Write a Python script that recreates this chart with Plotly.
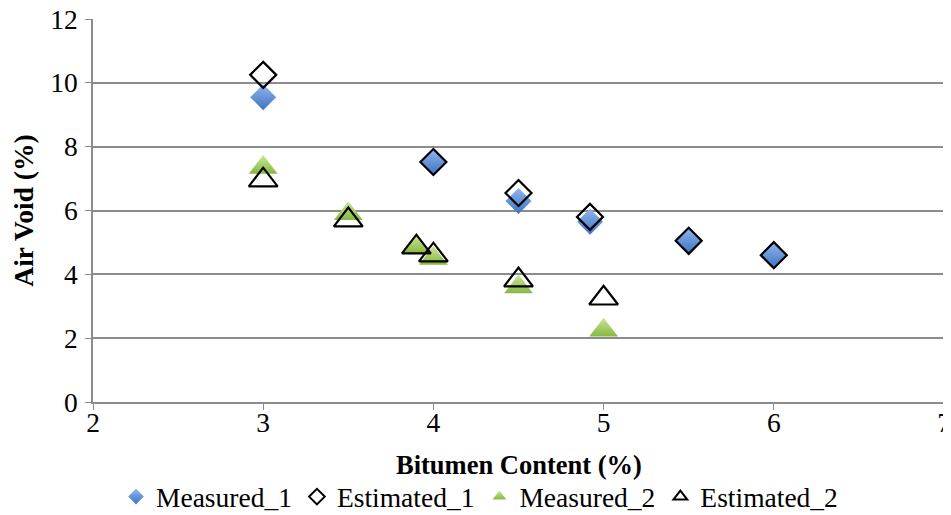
import plotly.graph_objects as go

# Data
m1_x = [3, 4, 4.5, 4.92, 5.5, 6]
m1_y = [9.55, 7.52, 6.3, 5.65, 5.05, 4.6]
e1_x = [3, 4, 4.5, 4.92, 5.5, 6]
e1_y = [10.25, 7.52, 6.55, 5.8, 5.05, 4.6]
m2_x = [3, 3.5, 3.9, 4, 4.5, 5]
m2_y = [7.35, 5.9, 4.85, 4.5, 3.6, 2.25]
e2_x = [3, 3.5, 3.9, 4, 4.5, 5]
e2_y = [6.95, 5.7, 4.85, 4.6, 3.82, 3.25]
x_ticks = [2, 3, 4, 5, 6, 7]
y_ticks = [0, 2, 4, 6, 8, 10, 12]

FONT = "Liberation Serif, Times New Roman, serif"

fig = go.Figure()
fig.add_trace(go.Scatter(
    x=m1_x, y=m1_y, mode="markers", name="Measured_1",
    marker=dict(symbol="diamond", size=20, color="#8FB6EE",
                gradient=dict(type="vertical", color="#3F73C4"),
                line=dict(width=0))))
fig.add_trace(go.Scatter(
    x=e1_x, y=e1_y, mode="markers", name="Estimated_1",
    marker=dict(symbol="diamond-open", size=20, color="black",
                line=dict(width=2.2, color="black"))))
fig.add_trace(go.Scatter(
    x=m2_x, y=m2_y, mode="markers", name="Measured_2",
    marker=dict(symbol="triangle-up", size=25, color="#CDE69A",
                gradient=dict(type="vertical", color="#86B840"),
                line=dict(width=0))))
fig.add_trace(go.Scatter(
    x=e2_x, y=e2_y, mode="markers", name="Estimated_2",
    marker=dict(symbol="triangle-up-open", size=25, color="black",
                line=dict(width=2.2, color="black"))))

fig.update_layout(
    width=943, height=507,
    margin=dict(l=85, r=7, t=11, b=113, autoexpand=False),
    paper_bgcolor="white", plot_bgcolor="white",
    font=dict(family=FONT, size=27, color="black"),
    showlegend=True,
    legend=dict(orientation="h", x=0.5, xref="container", xanchor="center",
                y=0.036, yref="container", yanchor="middle",
                font=dict(family=FONT, size=27.5), itemsizing="constant",
                traceorder="normal", itemwidth=30, tracegroupgap=0),
    xaxis=dict(range=[2, 7], tickvals=x_ticks, showgrid=False, zeroline=False,
               showline=True, linecolor="#8C8C8C", linewidth=1.5,
               ticks="outside", ticklen=6, tickcolor="#8C8C8C",
               tickfont=dict(family=FONT, size=27.5), automargin=False,
               ticklabelstandoff=-11, ticklabeloverflow="allow"),
    yaxis=dict(range=[0, 12], tickvals=y_ticks, showgrid=True, gridcolor="#8C8C8C",
               gridwidth=1.5, zeroline=False,
               showline=True, linecolor="#8C8C8C", linewidth=1.5,
               ticks="outside", ticklen=6, tickcolor="#8C8C8C",
               tickfont=dict(family=FONT, size=27.5), automargin=False,
               ticklabelstandoff=2, ticklabeloverflow="allow",
               title=dict(text="<b>Air Void (%)</b>", standoff=9,
                          font=dict(family=FONT, size=27.5))),
    annotations=[dict(text="<b>Bitumen Content (%)</b>", xref="paper", yref="paper",
                      x=0.5, y=-0.165, xanchor="center", yanchor="middle",
                      showarrow=False, font=dict(family=FONT, size=26.5))],
)

fig.write_html("out.html")
